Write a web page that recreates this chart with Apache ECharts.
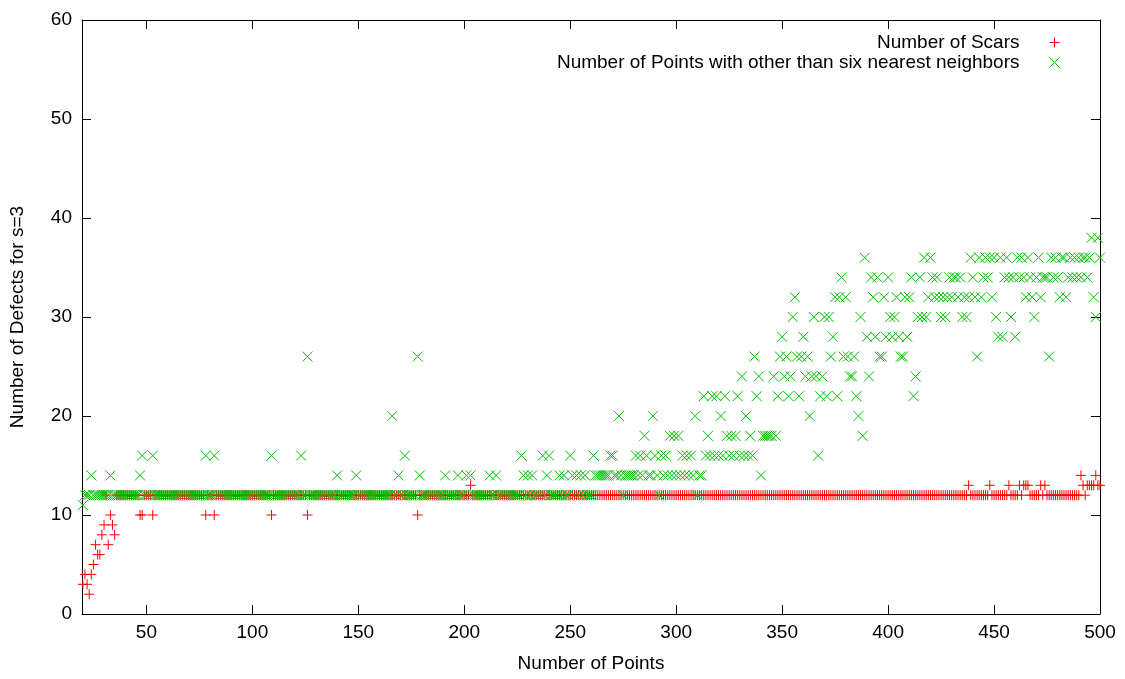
<!DOCTYPE html>
<html>
<head>
<meta charset="utf-8">
<script src="https://cdn.jsdelivr.net/npm/echarts@6.0.0/dist/echarts.min.js"></script>
<style>
  html, body { margin: 0; padding: 0; background: #fff; }
  #chart { width: 1125px; height: 679px; }
</style>
</head>
<body>
<div id="chart"></div>
<script>
// number of points runs from firstN to 500, one value per N
const firstN = 20;

// Number of Scars
const scars = [
  3, 4, 3, 2, 4, 5, 7, 6, 6, 8,
  9, 12, 7, 10, 9, 8, 12, 12, 12, 12,
  12, 12, 12, 12, 12, 12, 12, 10, 10, 12,
  12, 12, 12, 10, 12, 12, 12, 12, 12, 12,
  12, 12, 12, 12, 12, 12, 12, 12, 12, 12,
  12, 12, 12, 12, 12, 12, 12, 12, 10, 12,
  12, 12, 10, 12, 12, 12, 12, 12, 12, 12,
  12, 12, 12, 12, 12, 12, 12, 12, 12, 12,
  12, 12, 12, 12, 12, 12, 12, 12, 12, 10,
  12, 12, 12, 12, 12, 12, 12, 12, 12, 12,
  12, 12, 12, 12, 12, 12, 10, 12, 12, 12,
  12, 12, 12, 12, 12, 12, 12, 12, 12, 12,
  12, 12, 12, 12, 12, 12, 12, 12, 12, 12,
  12, 12, 12, 12, 12, 12, 12, 12, 12, 12,
  12, 12, 12, 12, 12, 12, 12, 12, 12, 12,
  12, 12, 12, 12, 12, 12, 12, 12, 10, 12,
  12, 12, 12, 12, 12, 12, 12, 12, 12, 12,
  12, 12, 12, 12, 12, 12, 12, 12, 12, 12,
  12, 12, 12, 13, 12, 12, 12, 12, 12, 12,
  12, 12, 12, 12, 12, 12, 12, 12, 12, 12,
  12, 12, 12, 12, 12, 12, 12, 12, 12, 12,
  12, 12, 12, 12, 12, 12, 12, 12, 12, 12,
  12, 12, 12, 12, 12, 12, 12, 12, 12, 12,
  12, 12, 12, 12, 12, 12, 12, 12, 12, 12,
  12, 12, 12, 12, 12, 12, 12, 12, 12, 12,
  12, 12, 12, 12, 12, 12, 12, 12, 12, 12,
  12, 12, 12, 12, 12, 12, 12, 12, 12, 12,
  12, 12, 12, 12, 12, 12, 12, 12, 12, 12,
  12, 12, 12, 12, 12, 12, 12, 12, 12, 12,
  12, 12, 12, 12, 12, 12, 12, 12, 12, 12,
  12, 12, 12, 12, 12, 12, 12, 12, 12, 12,
  12, 12, 12, 12, 12, 12, 12, 12, 12, 12,
  12, 12, 12, 12, 12, 12, 12, 12, 12, 12,
  12, 12, 12, 12, 12, 12, 12, 12, 12, 12,
  12, 12, 12, 12, 12, 12, 12, 12, 12, 12,
  12, 12, 12, 12, 12, 12, 12, 12, 12, 12,
  12, 12, 12, 12, 12, 12, 12, 12, 12, 12,
  12, 12, 12, 12, 12, 12, 12, 12, 12, 12,
  12, 12, 12, 12, 12, 12, 12, 12, 12, 12,
  12, 12, 12, 12, 12, 12, 12, 12, 12, 12,
  12, 12, 12, 12, 12, 12, 12, 12, 12, 12,
  12, 12, 12, 12, 12, 12, 12, 12, 13, 12,
  12, 12, 12, 12, 12, 12, 12, 12, 13, 12,
  12, 12, 12, 12, 12, 12, 12, 13, 12, 12,
  12, 12, 13, 12, 13, 13, 13, 12, 12, 12,
  12, 12, 13, 12, 13, 12, 12, 12, 12, 12,
  12, 12, 12, 12, 12, 12, 12, 12, 12, 12,
  12, 14, 13, 12, 13, 13, 13, 13, 14, 13,
  13
];

// Number of Points with other than six nearest neighbors
const defects = [
  11, 12, 12, 12, 14, 12, 12, 12, 12, 12,
  12, 12, 12, 14, 12, 12, 12, 12, 12, 12,
  12, 12, 12, 12, 12, 12, 12, 14, 16, 12,
  12, 12, 12, 16, 12, 12, 12, 12, 12, 12,
  12, 12, 12, 12, 12, 12, 12, 12, 12, 12,
  12, 12, 12, 12, 12, 12, 12, 12, 16, 12,
  12, 12, 16, 12, 12, 12, 12, 12, 12, 12,
  12, 12, 12, 12, 12, 12, 12, 12, 12, 12,
  12, 12, 12, 12, 12, 12, 12, 12, 12, 16,
  12, 12, 12, 12, 12, 12, 12, 12, 12, 12,
  12, 12, 12, 16, 12, 12, 26, 12, 12, 12,
  12, 12, 12, 12, 12, 12, 12, 12, 12, 12,
  14, 12, 12, 12, 12, 12, 12, 12, 12, 14,
  12, 12, 12, 12, 12, 12, 12, 12, 12, 12,
  12, 12, 12, 12, 12, 12, 20, 12, 12, 14,
  12, 12, 16, 12, 12, 12, 12, 12, 26, 14,
  12, 12, 12, 12, 12, 12, 12, 12, 12, 12,
  12, 14, 12, 12, 12, 12, 12, 14, 12, 12,
  12, 14, 12, 14, 12, 12, 12, 12, 12, 12,
  12, 12, 14, 12, 12, 14, 12, 12, 12, 12,
  12, 12, 12, 12, 12, 12, 12, 16, 14, 12,
  14, 12, 14, 12, 12, 12, 12, 16, 12, 14,
  16, 12, 12, 12, 12, 14, 12, 14, 12, 12,
  16, 14, 12, 14, 12, 14, 12, 14, 12, 12,
  12, 16, 14, 14, 14, 14, 14, 14, 14, 16,
  16, 14, 14, 20, 14, 12, 14, 14, 14, 14,
  14, 16, 14, 16, 14, 18, 16, 14, 14, 20,
  16, 14, 12, 16, 14, 16, 14, 18, 14, 18,
  14, 18, 14, 16, 14, 16, 14, 16, 14, 20,
  12, 14, 14, 22, 16, 18, 16, 22, 16, 22,
  16, 20, 16, 22, 18, 16, 18, 16, 18, 22,
  16, 24, 16, 20, 16, 18, 16, 26, 22, 24,
  14, 18, 18, 18, 18, 18, 24, 18, 22, 26,
  28, 24, 26, 22, 24, 30, 32, 26, 22, 26,
  28, 24, 26, 20, 24, 30, 24, 16, 22, 24,
  30, 22, 30, 26, 28, 32, 22, 32, 34, 26,
  32, 26, 24, 24, 26, 22, 20, 30, 18, 36,
  28, 24, 34, 32, 28, 34, 26, 26, 32, 28,
  34, 30, 28, 30, 32, 28, 26, 26, 32, 28,
  32, 34, 22, 24, 30, 34, 30, 36, 30, 32,
  36, 34, 32, 34, 32, 30, 32, 30, 32, 34,
  32, 34, 34, 32, 34, 30, 32, 30, 32, 36,
  34, 32, 26, 36, 32, 34, 36, 34, 36, 32,
  36, 30, 28, 36, 28, 34, 36, 34, 30, 34,
  28, 36, 34, 36, 34, 32, 36, 34, 32, 30,
  34, 36, 32, 34, 34, 34, 26, 36, 34, 36,
  34, 32, 36, 36, 32, 34, 36, 34, 36, 34,
  36, 34, 36, 36, 34, 36, 38, 32, 30, 38,
  36
];

const xTicks = [50, 100, 150, 200, 250, 300, 350, 400, 450, 500];

const plusSymbol = 'path://M0,5L10,5M5,0L5,10';
const crossSymbol = 'path://M0,0L10,10M10,0L0,10';

const font = "'Liberation Sans', Arial, sans-serif";

const chart = echarts.init(document.getElementById('chart'));

function toPoints(values) {
  return values.map((v, i) => [firstN + i, v]);
}

const axisLine = { show: true, onZero: false, lineStyle: { color: '#000', width: 1 } };

chart.setOption({
  animation: false,
  backgroundColor: '#fff',
  textStyle: { fontFamily: font },
  grid: { left: 82, right: 25, top: 20, bottom: 65 },
  legend: {
    orient: 'vertical',
    right: 58,
    top: 28,
    align: 'right',
    itemWidth: 60,
    itemHeight: 10,
    itemGap: 1,
    itemStyle: { borderWidth: 1 },
    textStyle: { fontSize: 19, color: '#000', fontFamily: font, lineHeight: 19 },
    data: ['Number of Scars', 'Number of Points with other than six nearest neighbors']
  },
  xAxis: [
    {
      type: 'value',
      position: 'bottom',
      min: 19.6,
      max: 500,
      name: 'Number of Points',
      nameLocation: 'middle',
      nameGap: 40,
      nameTextStyle: { fontSize: 19, color: '#000', fontFamily: font },
      axisLine: axisLine,
      axisTick: { inside: true, length: 9, customValues: xTicks, lineStyle: { color: '#000' } },
      axisLabel: { customValues: xTicks, fontSize: 19, color: '#000', margin: 9, fontFamily: font },
      splitLine: { show: false }
    },
    {
      type: 'value',
      position: 'top',
      min: 19.6,
      max: 500,
      axisLine: axisLine,
      axisTick: { inside: true, length: 9, customValues: xTicks, lineStyle: { color: '#000' } },
      axisLabel: { show: false },
      splitLine: { show: false }
    }
  ],
  yAxis: [
    {
      type: 'value',
      position: 'left',
      min: 0,
      max: 60,
      interval: 10,
      name: 'Number of Defects for s=3',
      nameLocation: 'middle',
      nameGap: 55,
      nameTextStyle: { fontSize: 19, color: '#000', fontFamily: font },
      axisLine: axisLine,
      axisTick: { inside: true, length: 9, lineStyle: { color: '#000' } },
      axisLabel: { fontSize: 19, color: '#000', margin: 10, fontFamily: font },
      splitLine: { show: false }
    },
    {
      type: 'value',
      position: 'right',
      min: 0,
      max: 60,
      interval: 10,
      axisLine: axisLine,
      axisTick: { inside: true, length: 9, lineStyle: { color: '#000' } },
      axisLabel: { show: false },
      splitLine: { show: false }
    }
  ],
  series: [
    {
      name: 'Number of Scars',
      type: 'scatter',
      symbol: plusSymbol,
      symbolSize: 10,
      progressive: 0,
      itemStyle: { color: 'none', borderColor: '#ff0000', borderWidth: 1, opacity: 1 },
      data: toPoints(scars)
    },
    {
      name: 'Number of Points with other than six nearest neighbors',
      type: 'scatter',
      symbol: crossSymbol,
      symbolSize: 10,
      progressive: 0,
      itemStyle: { color: 'none', borderColor: '#00c000', borderWidth: 1, opacity: 1 },
      data: toPoints(defects)
    }
  ]
});
</script>
</body>
</html>
